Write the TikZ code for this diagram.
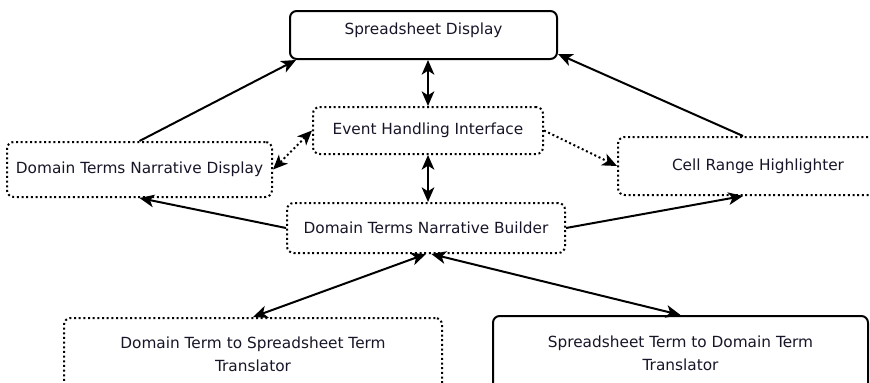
\documentclass[tikz,border=0pt]{standalone}
\usepackage{fontspec}
\setmainfont{DejaVu Sans}
\usetikzlibrary{arrows.meta,calc}

\begin{document}
\begin{tikzpicture}[x=0.75pt, y=-0.75pt, line join=round,
    font=\fontsize{11.5}{17}\selectfont]

    % --- Colors and styles ---
    \definecolor{labeltext}{RGB}{22, 22, 40}
    \tikzset{
        arw/.tip={Stealth[length=11pt, width=9.5pt, inset=3pt]},
        solidbox/.style={draw, line width=1.5pt, rounded corners=5pt,
            align=center, inner sep=0pt, text=labeltext},
        dotbox/.style={solidbox, dotted},
        link/.style={line width=1.5pt, -arw},
        twolink/.style={line width=1.5pt, arw-arw}
    }

    % --- Page frame (some boxes run past the edge) ---
    \useasboundingbox (0, 0) rectangle (870, 382);

    % --- 1. Boxes ---
    \node[solidbox, minimum width=200.25pt, minimum height=36pt,
        text height=8.5pt, text depth=10pt] (sd) at (423.5, 35) {Spreadsheet Display};
    \node[dotbox, minimum width=172.5pt, minimum height=35.25pt] (ehi) at (428, 130.5) {Event Handling Interface};
    \node[dotbox, minimum width=198.75pt, minimum height=41.25pt] (dtnd) at (139.5, 169.5) {Domain Terms Narrative Display};
    \node[dotbox, minimum width=210pt, minimum height=43.5pt] (crh) at (758, 166) {Cell Range Highlighter};
    \node[dotbox, minimum width=208.5pt, minimum height=37.5pt] (dtnb) at (426, 228) {Domain Terms Narrative Builder};
    \node[dotbox, minimum width=283.5pt, minimum height=54.75pt] (dtst) at (253, 354.5)
        {Domain Term to Spreadsheet Term\\Translator};
    \node[solidbox, minimum width=281.25pt, minimum height=56.25pt] (stdt) at (680.5, 353.5)
        {Spreadsheet Term to Domain Term\\Translator};

    % --- 2. Connectors ---
    \draw[link] (dtnd.north) -- ([xshift=5.25pt]sd.south west);
    \draw[link] ([xshift=-11.25pt]crh.north) -- ([yshift=4.5pt]sd.south east);
    \draw[twolink] (ehi.north |- sd.south) -- (ehi.north);
    \draw[twolink] (ehi.south) -- (ehi.south |- dtnb.north);

    \draw[twolink, dotted] (ehi.west) -- (dtnd.east);
    \draw[link, dotted] (ehi.east) -- (crh.west);

    \draw[link] (dtnb.west) -- (dtnd.south);
    \draw[link] (dtnb.east) -- ([xshift=-11.25pt]crh.south);

    \draw[twolink] (dtnb.south) -- (dtst.north);
    \draw[twolink] ([xshift=4pt]dtnb.south) -- (stdt.north);

\end{tikzpicture}
\end{document}
